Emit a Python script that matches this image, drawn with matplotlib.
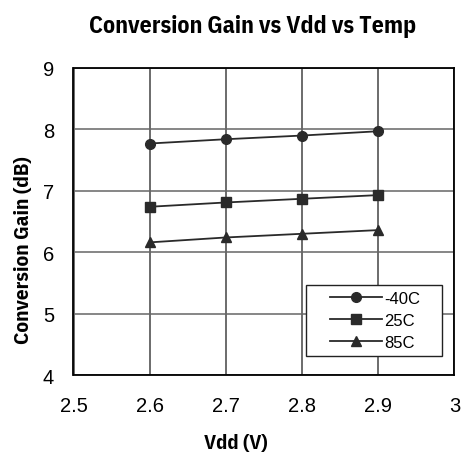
import matplotlib
matplotlib.use("Agg")
import matplotlib.pyplot as plt
from matplotlib import font_manager
from matplotlib.patches import Rectangle

vdd = [2.6, 2.7, 2.8, 2.9]
gain_m40 = [7.77, 7.84, 7.90, 7.97]
gain_25 = [6.74, 6.81, 6.87, 6.93]
gain_85 = [6.16, 6.24, 6.30, 6.36]
labels = ["-40C", "25C", "85C"]
markers = ["o", "s", "^"]
xticks = [2.5, 2.6, 2.7, 2.8, 2.9, 3.0]
xticklabels = ["2.5", "2.6", "2.7", "2.8", "2.9", "3"]
yticks = [4, 5, 6, 7, 8, 9]

names = {f.name for f in font_manager.fontManager.ttflist}
narrow = "DejaVu Sans"
for cand in ["Liberation Sans Narrow", "IBM Plex Sans Condensed", "Roboto Condensed",
             "PT Sans Narrow", "Archivo Narrow"]:
    if cand in names:
        narrow = cand
        break
reg = "Liberation Sans" if "Liberation Sans" in names else "DejaVu Sans"

W, H = 464, 460
fig = plt.figure(figsize=(W/100, H/100), dpi=100)
L, R, T, B = 73.5, 454.5, 69, 376
ax = fig.add_axes([L/W, 1-B/H, (R-L)/W, (B-T)/H])

msizes = [7, 6.5, 7.5]
for y, lab, m, ms in zip([gain_m40, gain_25, gain_85], labels, markers, msizes):
    ax.plot(vdd, y, color="#2a2a2a", lw=1.3, marker=m, markersize=ms, label=lab, zorder=3)

ax.set_xlim(2.5, 3.0)
ax.set_ylim(4, 9)
ax.set_xticks(xticks)
ax.set_xticklabels(xticklabels)
ax.set_yticks(yticks)
ax.xaxis.grid(True, color="#444444", lw=1.1)
ax.yaxis.grid(True, color="#666666", lw=1.1)
ax.tick_params(axis="x", length=0, labelsize=14.5, pad=15)
ax.tick_params(axis="y", length=0, labelsize=14.5, pad=14)
for lab in ax.get_xticklabels() + ax.get_yticklabels():
    lab.set_fontfamily(reg)
for s in ax.spines.values():
    s.set_color("black")
    s.set_linewidth(1.3)

fig.canvas.draw()
renderer = fig.canvas.get_renderer()

def fitted_text(x, y, s, target_w, rotation=0):
    t = fig.text(x, y, s, fontsize=14, fontweight="bold", family=narrow,
                 ha="center", va="center", rotation=rotation)
    bb = t.get_window_extent(renderer)
    size = bb.height if rotation else bb.width
    t.set_fontsize(14 * target_w / size)
    return t

fitted_text(253/W, 1-27/H, "Conversion Gain vs Vdd vs Temp", 330)
fitted_text(236/W, 1-444/H, "Vdd (V)", 64)
fitted_text(24/W, 1-250/H, "Conversion Gain (dB)", 190, rotation=90)

# legend box
bx0, bx1, by0, by1 = 306, 442, 286, 357
ax.add_patch(Rectangle((bx0/W, 1-by1/H), (bx1-bx0)/W, (by1-by0)/H, transform=fig.transFigure,
                       facecolor="white", edgecolor="#222222", lw=1.0, zorder=4))
leg = ax.legend(loc="center", bbox_to_anchor=((bx0+bx1)/2/W + 1.5/W, 1-(by0+by1)/2/H),
                bbox_transform=fig.transFigure, frameon=False,
                prop={"family": reg, "size": 12}, handlelength=3.1, borderpad=0.2,
                labelspacing=0.42, handletextpad=0.15)
leg.set_zorder(5)

fig.savefig("out.png", dpi=100)
